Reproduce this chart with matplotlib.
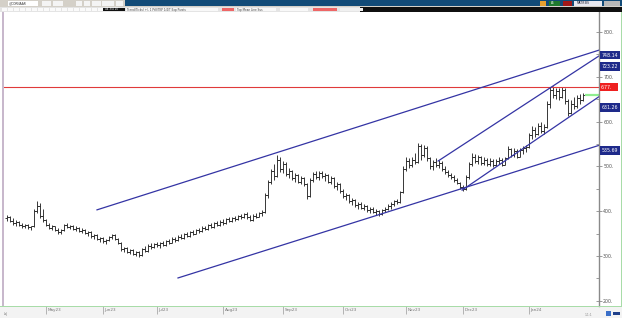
import matplotlib
matplotlib.use("Agg")
import matplotlib.pyplot as plt
import matplotlib.transforms as mtransforms
from matplotlib.patches import Rectangle

W, H = 622, 318

# daily OHLC bars
opens = [384, 386, 379, 373, 377, 369, 366, 369, 364, 366, 400, 412, 390, 380, 370, 363, 366, 358, 353,
         357, 369, 365, 367, 361, 363, 356, 359, 351, 353, 344, 346, 338, 340, 333, 335, 342, 346, 338,
         329, 315, 317, 310, 313, 305, 308, 302, 315, 312, 323, 319, 327, 324, 329, 325, 333, 330, 339,
         335, 343, 340, 349, 345, 353, 350, 358, 355, 363, 360, 369, 365, 373, 370, 377, 374, 382, 378,
         385, 382, 389, 386, 393, 387, 381, 390, 388, 395, 398, 436, 465, 490, 478, 515, 495, 505, 482,
         490, 474, 480, 466, 474, 460, 434, 470, 482, 476, 485, 478, 480, 466, 473, 456, 460, 444, 434,
         436, 422, 426, 414, 416, 408, 411, 403, 406, 399, 401, 394, 402, 405, 412, 416, 422, 420, 442,
         495, 512, 502, 515, 510, 545, 525, 540, 518, 500, 510, 502, 508, 494, 488, 480, 476, 470, 463,
         454, 450, 476, 505, 522, 512, 520, 508, 515, 505, 513, 503, 512, 515, 504, 518, 538, 526, 535,
         522, 536, 540, 544, 570, 582, 572, 590, 580, 588, 640, 670, 660, 668, 655, 670, 646, 620, 640,
         634, 652, 648]
highs = [392, 390, 384, 380, 379, 374, 372, 371, 368, 405, 422, 418, 404, 382, 374, 370, 368, 362, 360,
         372, 373, 370, 369, 366, 365, 362, 361, 356, 355, 350, 348, 343, 342, 338, 345, 350, 349, 341,
         331, 320, 319, 316, 315, 311, 312, 318, 322, 326, 328, 330, 332, 331, 333, 336, 338, 342, 343,
         346, 348, 352, 353, 356, 358, 361, 363, 366, 368, 372, 373, 376, 378, 380, 382, 385, 386, 388,
         390, 392, 394, 396, 398, 392, 393, 395, 398, 402, 440, 470, 495, 505, 525, 522, 512, 510, 496,
         493, 485, 484, 478, 477, 462, 475, 488, 490, 489, 490, 486, 484, 478, 476, 465, 463, 450, 440,
         438, 430, 428, 420, 420, 415, 414, 410, 409, 404, 403, 405, 410, 415, 420, 426, 428, 446, 500,
         520, 518, 522, 530, 552, 550, 548, 545, 522, 515, 518, 514, 512, 500, 492, 486, 480, 474, 466,
         458, 480, 510, 530, 528, 526, 524, 520, 519, 518, 517, 516, 520, 518, 522, 545, 542, 540, 538,
         540, 545, 548, 575, 590, 588, 596, 598, 595, 645, 678, 680, 676, 674, 678, 675, 650, 648, 655,
         660, 662, 664]
lows = [378, 376, 370, 368, 366, 363, 362, 360, 358, 364, 396, 385, 375, 366, 360, 357, 355, 350, 349,
        355, 362, 360, 358, 356, 353, 351, 348, 345, 341, 338, 335, 332, 330, 327, 333, 338, 335, 326,
        312, 308, 306, 305, 302, 300, 298, 301, 310, 310, 316, 317, 320, 318, 322, 323, 327, 328, 332,
        333, 337, 338, 342, 343, 346, 348, 351, 353, 357, 358, 362, 363, 366, 368, 370, 372, 375, 376,
        379, 380, 383, 384, 383, 378, 379, 384, 386, 390, 396, 430, 460, 470, 476, 488, 485, 478, 475,
        470, 466, 462, 460, 456, 428, 432, 466, 472, 470, 474, 468, 462, 460, 452, 448, 440, 430, 424,
        418, 414, 410, 406, 404, 402, 399, 397, 395, 392, 389, 392, 398, 402, 406, 412, 416, 418, 440,
        490, 496, 498, 505, 508, 515, 520, 512, 495, 492, 498, 496, 490, 482, 476, 472, 466, 460, 450,
        444, 448, 472, 500, 508, 506, 504, 502, 500, 501, 498, 500, 506, 500, 502, 516, 520, 522, 518,
        520, 528, 532, 540, 562, 566, 570, 575, 572, 585, 630, 652, 650, 648, 652, 640, 612, 618, 628,
        630, 640, 645]
closes = [386, 379, 373, 377, 369, 366, 369, 364, 366, 400, 412, 390, 380, 370, 363, 366, 358, 353, 357,
          369, 365, 367, 361, 363, 356, 359, 351, 353, 344, 346, 338, 340, 333, 335, 342, 346, 338, 329,
          315, 317, 310, 313, 305, 308, 302, 315, 312, 323, 319, 327, 324, 329, 325, 333, 330, 339, 335,
          343, 340, 349, 345, 353, 350, 358, 355, 363, 360, 369, 365, 373, 370, 377, 374, 382, 378, 385,
          382, 389, 386, 393, 387, 381, 390, 388, 395, 398, 436, 465, 490, 478, 515, 495, 505, 482, 490,
          474, 480, 466, 474, 460, 434, 470, 482, 476, 485, 478, 480, 466, 473, 456, 460, 444, 434, 436,
          422, 426, 414, 416, 408, 411, 403, 406, 399, 401, 394, 402, 405, 412, 416, 422, 420, 442, 495,
          512, 502, 515, 510, 545, 525, 540, 518, 500, 510, 502, 508, 494, 488, 480, 476, 470, 463, 454,
          450, 476, 505, 522, 512, 520, 508, 515, 505, 513, 503, 512, 515, 504, 518, 538, 526, 535, 522,
          536, 540, 544, 570, 582, 572, 590, 580, 588, 640, 670, 660, 668, 655, 670, 646, 620, 640, 634,
          652, 648, 660]

month_pos = [13, 32, 50, 72, 92, 112, 133, 152, 174]
month_labels = ["May23", "Jun23", "Jul23", "Aug23", "Sep23", "Oct23", "Nov23", "Dec23", "Jan24"]

price_ticks = [200, 300, 400, 500, 600, 700, 800]
price_minor = [250, 350, 450, 550, 650, 750]

# trend lines: start bar, start price, last bar, price at last bar
line_x0 = [30, 57, 143.7, 151.7]
line_p0 = [403, 251, 512, 447]
line_x1 = [192, 192, 192, 192]
line_p1 = [748.14, 535.69, 723.22, 631.26]
line_tags = ["748.14", "535.69", "723.22", "631.26"]

resistance = 677
resistance_tag = "677."

navy = "#3434a4"

fig = plt.figure(figsize=(W / 100, H / 100), dpi=100)
fig.patch.set_facecolor("white")


def frect(x, y, w, h, color, z=1):
    fig.add_artist(Rectangle((x / W, 1 - (y + h) / H), w / W, h / H,
                             transform=fig.transFigure, fc=color, ec="none", zorder=z))


def ftext(x, y, s, **kw):
    fig.text(x / W, 1 - y / H, s, **kw)


# header bars
frect(0, 0, W, 7, "#d4d0c8")
frect(125, 0, W - 125, 6, "#124b78")
frect(0, 7, W, 5, "#e4e4e4")
frect(360, 7, W - 360, 5, "#101010")
frect(8, 1, 30, 4.5, "white")
ftext(9, 3.3, "@CORNAAR", fontsize=2.2, color="#333", va="center")
for bx, bw in [(42, 9), (53, 10), (76, 6), (84, 6), (92, 9), (102, 12), (116, 7)]:
    frect(bx, 1, bw, 4.5, "#f4f4f4")
for bx in range(2, 100, 6):
    frect(bx, 7.6, 5, 3.8, "#fafafa")
frect(103, 7.6, 22, 3.8, "#111")
ftext(105, 9.5, "44 3/4 10", fontsize=2, color="white", va="center")
frect(126, 7.6, 92, 3.8, "#f8f8f8")
ftext(127, 9.5, "Trend(Ticks) +/- 1 Pt8/TKP 1/4/T Exp Pivots", fontsize=2, color="#444", va="center")
frect(222, 7.6, 12, 3.8, "#ee6666")
frect(236, 7.6, 40, 3.8, "#f8f8f8")
ftext(237, 9.5, "Top Mean Line Sus", fontsize=2, color="#444", va="center")
frect(280, 7.6, 28, 3.8, "#f8f8f8")
frect(313, 7.6, 24, 3.8, "#ee6666")
frect(340, 7.6, 23, 3.8, "#f0f0f0")
frect(540, 1, 6, 4.5, "#e8a030")
frect(549, 1, 11, 4.5, "#1f7a2e")
ftext(551, 3.3, "AS", fontsize=2, color="white", va="center")
frect(563, 1, 9, 4.5, "#a01818")
frect(574, 1, 28, 4.5, "#e8e8f0")
ftext(577, 3.3, "MATIF.BS", fontsize=2.2, color="#223", va="center")
frect(604, 1, 16, 4.5, "#b8b8b8")

# bottom strip, kept behind the axes so the month labels show
frect(0, 306, W, 12, "#f3f3f3", z=-1)

ax = fig.add_axes([4 / W, 12 / H, 595 / W, 294 / H])
ax.patch.set_alpha(0)
ax.set_xlim(-1, 197.33)
ax.set_ylim(188.4, 844.6)
frect(4, 12, 595, 294, "white", z=-1)

x = list(range(len(closes)))
bar_col = "#2a2a2a"
ax.vlines(x, lows, highs, color=bar_col, lw=0.65)
ax.hlines(opens, [i - 0.7 for i in x], x, color=bar_col, lw=0.65)
ax.hlines(closes, x, [i + 0.7 for i in x], color=bar_col, lw=0.65)

ax.axhline(resistance, color="#e03a3a", lw=0.8)
ax.hlines(closes[-1], x[-1] + 0.7, 197.33, color="#90ee90", lw=1.6)

x_end = ax.get_xlim()[1]
for x0, p0, x1, p1 in zip(line_x0, line_p0, line_x1, line_p1):
    slope = (p1 - p0) / (x1 - x0)
    ax.plot([x0, x_end], [p0, p0 + slope * (x_end - x0)], color=navy, lw=0.9)

for s in ["top", "left", "bottom"]:
    ax.spines[s].set_visible(False)
ax.spines["right"].set_color("#8a8a8a")
ax.spines["right"].set_linewidth(1.0)

ax.yaxis.tick_right()
ax.set_yticks(price_ticks)
ax.set_yticklabels([f"{v}." for v in price_ticks])
ax.set_yticks(price_minor, minor=True)
ax.tick_params(axis="y", which="major", direction="inout", length=4, width=0.6,
               color="#8a8a8a", labelsize=3.4, labelcolor="#555", pad=1)
ax.tick_params(axis="y", which="minor", direction="in", length=2, width=0.6, color="#8a8a8a")

ax.set_xticks(month_pos)
ax.set_xticklabels(month_labels)
ax.tick_params(axis="x", direction="out", length=6, width=0.5, color="#999",
               labelsize=3.0, labelcolor="#777", pad=-4.5)
shift = mtransforms.ScaledTranslation(1.5 / 100, 0, fig.dpi_scale_trans)
for lbl in ax.get_xticklabels():
    lbl.set_ha("left")
    lbl.set_transform(lbl.get_transform() + shift)

# value tags on the price axis
tag_tr = mtransforms.blended_transform_factory(ax.transAxes, ax.transData)
for p, t in zip(line_p1, line_tags):
    ax.text(1.004, p, t, transform=tag_tr, fontsize=3.4, color="white", va="center", ha="left",
            clip_on=False, bbox=dict(boxstyle="square,pad=0.35", fc="#1e2a8a", ec="none"))
ax.text(1.004, resistance, resistance_tag + "   ", transform=tag_tr, fontsize=3.4, color="white",
        va="center", ha="left", clip_on=False,
        bbox=dict(boxstyle="square,pad=0.35", fc="#ee2020", ec="none"))

# frame lines
frect(0, 11.5, W, 0.8, "#a8dca8")
frect(0, 305.5, W, 1, "#a8dca8")
frect(2, 12, 2, 294, "#c8b8cc")
frect(620.5, 12, 1.5, 294, "#a8dca8")
ftext(4, 314.5, "LxJ", fontsize=2.2, color="#777", va="center")
ftext(585, 314.5, "1:1:1", fontsize=2.2, color="#888", va="center")
frect(606, 311, 5, 5, "#3a6fc8")
frect(613, 312, 7, 3, "#1e3f8a")

fig.savefig("out.png", dpi=100)
